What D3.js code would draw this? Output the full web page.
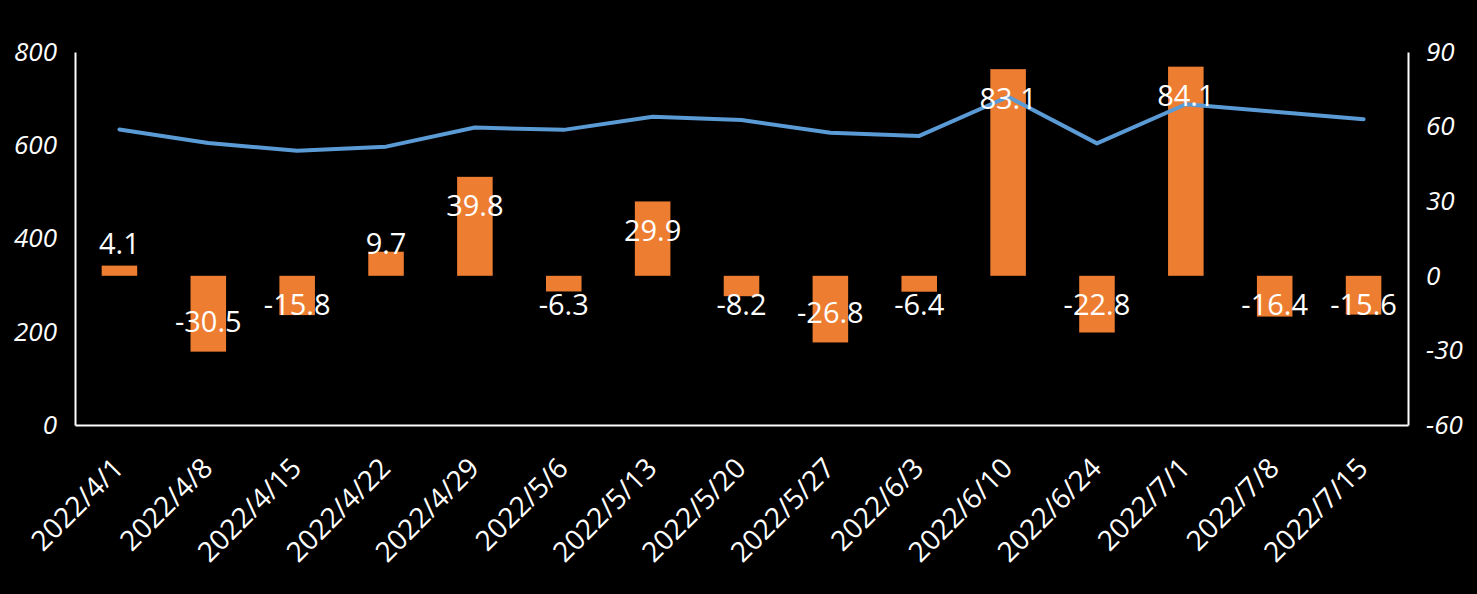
<!DOCTYPE html>
<html><head><meta charset="utf-8">
<script src="https://cdn.jsdelivr.net/npm/d3@7"></script>
<style>html,body{margin:0;padding:0;background:#000;} svg{display:block;}</style>
</head><body>
<svg id="c" width="1477" height="594"></svg>
<script>
const categories = ["2022/4/1","2022/4/8","2022/4/15","2022/4/22","2022/4/29","2022/5/6","2022/5/13","2022/5/20","2022/5/27","2022/6/3","2022/6/10","2022/6/24","2022/7/1","2022/7/8","2022/7/15"];
const lineValues = [634,605,588,597,638,633,661,654,627,620,704,604,688,672,656];
const barValues = [4.1,-30.5,-15.8,9.7,39.8,-6.3,29.9,-8.2,-26.8,-6.4,83.1,-22.8,84.1,-16.4,-15.6];
const leftTicks = [0,200,400,600,800];
const rightTicks = [-60,-30,0,30,60,90];

const W = 1477, H = 594;
const m = {left: 75, right: 1408, top: 52, bottom: 425};
const FONT = "'Open Sans', sans-serif";
const svg = d3.select("#c");
svg.append("rect").attr("width", W).attr("height", H).attr("fill", "#000");

const x = d3.scaleBand().domain(categories).range([m.left, m.right]).paddingInner(0.6).paddingOuter(0.3);
const yL = d3.scaleLinear().domain([0, 800]).range([m.bottom, m.top]);
const yR = d3.scaleLinear().domain([-60, 90]).range([m.bottom, m.top]);

// bars
svg.append("g").selectAll("rect").data(barValues).join("rect")
  .attr("x", (d, i) => x(categories[i]))
  .attr("width", x.bandwidth())
  .attr("y", d => Math.min(yR(d), yR(0)))
  .attr("height", d => Math.abs(yR(d) - yR(0)))
  .attr("fill", "#ED7D31");

// axes
const fmt = d => String(d);
const gL = svg.append("g").attr("transform", `translate(${m.left},0)`)
  .call(d3.axisLeft(yL).tickValues(leftTicks).tickFormat(fmt).tickSize(0).tickSizeOuter(0).tickPadding(18));
const gR = svg.append("g").attr("transform", `translate(${m.right},0)`)
  .call(d3.axisRight(yR).tickValues(rightTicks).tickFormat(fmt).tickSize(0).tickSizeOuter(0).tickPadding(18));
const gB = svg.append("g").attr("transform", `translate(0,${m.bottom})`)
  .call(d3.axisBottom(x).tickSize(0).tickSizeOuter(0).tickFormat(""));
[gL, gR, gB].forEach(g => {
  g.select(".domain").attr("stroke", "#fff").attr("stroke-width", 2);
  g.selectAll("text").attr("fill", "#fff").attr("font-family", FONT)
    .attr("font-size", 26).attr("font-style", "italic");
});

// x labels
svg.append("g").selectAll("text").data(categories).join("text")
  .attr("transform", d => `translate(${x(d) + x.bandwidth() / 2 + 6},470) rotate(-45)`)
  .attr("text-anchor", "end")
  .attr("fill", "#fff").attr("font-family", FONT).attr("font-size", 28)
  .text(d => d);

// line
const line = d3.line().x((d, i) => x(categories[i]) + x.bandwidth() / 2).y(d => yL(d));
svg.append("path").datum(lineValues).attr("d", line)
  .attr("fill", "none").attr("stroke", "#5B9BD5").attr("stroke-width", 4)
  .attr("stroke-linejoin", "round").attr("stroke-linecap", "round");

// data labels
const LF = 29;
const z = yR(0);
svg.append("g").selectAll("text").data(barValues).join("text")
  .attr("x", (d, i) => x(categories[i]) + x.bandwidth() / 2)
  .attr("y", d => {
    const c = d >= 0 ? Math.min(yR(d) + 29, z - 32) : Math.max(yR(d) - 30, z + 29);
    return c + 0.36 * LF;
  })
  .attr("text-anchor", "middle")
  .attr("fill", "#fff").attr("font-family", FONT).attr("font-size", LF)
  .text(d => d.toFixed(1));
</script>
</body></html>
